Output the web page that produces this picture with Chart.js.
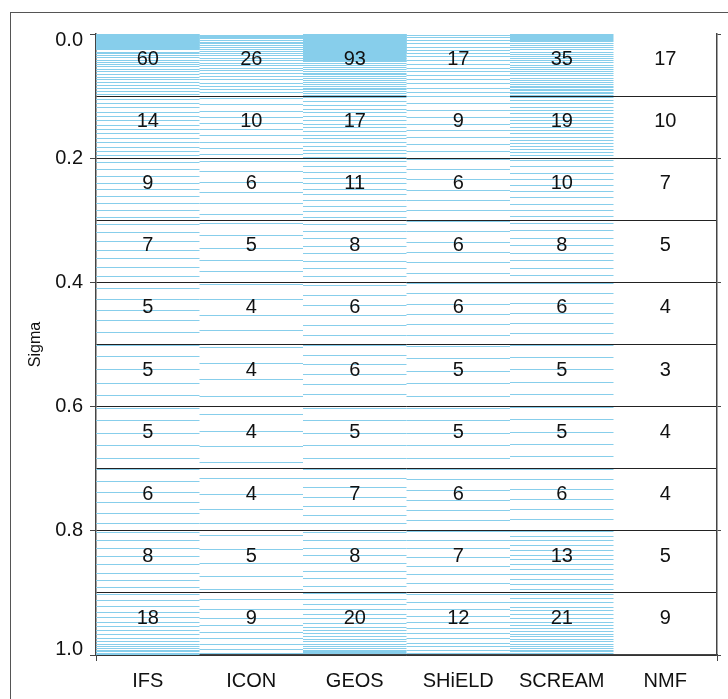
<!DOCTYPE html>
<html>
<head>
<meta charset="utf-8">
<script src="https://cdn.jsdelivr.net/npm/chart.js@4"></script>
<style>
html, body { margin: 0; padding: 0; background: #fff; overflow: hidden; }
#wrap { position: relative; width: 728px; height: 699px; }
#frame { position: absolute; left: 10px; top: 12px; width: 740px; height: 720px; border: 1px solid #555; box-sizing: border-box; }
#levelChart { position: absolute; left: 0; top: 0; }
</style>
</head>
<body>
<div id="wrap">
    <div id="frame"></div>
    <canvas id="levelChart" width="728" height="699"></canvas>
</div>
<script>
const models = ['IFS', 'ICON', 'GEOS', 'SHiELD', 'SCREAM', 'NMF'];

// number of levels in each 0.1 sigma band (top to bottom)
const ifsCounts = [60, 14, 9, 7, 5, 5, 5, 6, 8, 18];
const iconCounts = [26, 10, 6, 5, 4, 4, 4, 4, 5, 9];
const geosCounts = [93, 17, 11, 8, 6, 6, 5, 7, 8, 20];
const shieldCounts = [17, 9, 6, 6, 6, 5, 5, 6, 7, 12];
const screamCounts = [35, 19, 10, 8, 6, 5, 5, 6, 13, 21];
const nmfCounts = [17, 10, 7, 5, 4, 3, 4, 4, 5, 9];

// model level positions (sigma)
const ifsLevels = [
    0.0006, 0.0012, 0.0018, 0.0024, 0.003, 0.0036, 0.0042, 0.0048, 0.0054, 0.006,
    0.0066, 0.0072, 0.0078, 0.0084, 0.009, 0.0096, 0.0102, 0.0108, 0.0114, 0.012,
    0.0126, 0.0132, 0.0138, 0.0144, 0.015, 0.0156, 0.0162, 0.0168, 0.0174, 0.018,
    0.0186, 0.0192, 0.0198, 0.0204, 0.021, 0.0216, 0.0222, 0.0228, 0.0234, 0.024, 0.0246, 0.0252,
    0.029, 0.032, 0.035, 0.0385, 0.042, 0.0455, 0.049, 0.053, 0.057, 0.061,
    0.065, 0.0695, 0.074, 0.0785, 0.083, 0.088, 0.093, 0.098,
    0.105, 0.112, 0.119, 0.126, 0.133, 0.140, 0.147, 0.154, 0.161, 0.168, 0.175, 0.182, 0.189, 0.196,
    0.207, 0.218, 0.229, 0.240, 0.251, 0.262, 0.273, 0.284, 0.295,
    0.306, 0.320, 0.334, 0.348, 0.362, 0.376, 0.390,
    0.410, 0.427, 0.445, 0.462, 0.480,
    0.501, 0.520, 0.540, 0.562, 0.582,
    0.603, 0.623, 0.643, 0.663, 0.683,
    0.702, 0.720, 0.738, 0.755, 0.772, 0.788,
    0.803, 0.816, 0.829, 0.842, 0.855, 0.868, 0.880, 0.892,
    0.903, 0.913, 0.922, 0.931, 0.939, 0.947, 0.954, 0.961, 0.967, 0.973, 0.978, 0.983, 0.987, 0.990, 0.993, 0.995, 0.997, 0.999
];
const iconLevels = [
    0.002, 0.004, 0.006, 0.008, 0.010, 0.013, 0.016, 0.019, 0.022, 0.025, 0.028, 0.031,
    0.035, 0.039, 0.043, 0.047, 0.051, 0.055, 0.059, 0.064, 0.069, 0.074, 0.079, 0.084, 0.089, 0.094,
    0.104, 0.114, 0.124, 0.134, 0.144, 0.154, 0.164, 0.174, 0.184, 0.194,
    0.205, 0.222, 0.239, 0.256, 0.273, 0.290,
    0.305, 0.325, 0.345, 0.364, 0.383,
    0.403, 0.428, 0.453, 0.477,
    0.505, 0.531, 0.556, 0.584,
    0.613, 0.640, 0.664, 0.690,
    0.716, 0.741, 0.765, 0.789,
    0.808, 0.830, 0.852, 0.874, 0.895,
    0.911, 0.927, 0.941, 0.953, 0.964, 0.974, 0.983, 0.991, 0.997
];
const geosLevels = [
    0.0005, 0.001, 0.0015, 0.002, 0.0025, 0.003, 0.0035, 0.004, 0.0045, 0.005,
    0.0055, 0.006, 0.0065, 0.007, 0.0075, 0.008, 0.0085, 0.009, 0.0095, 0.010,
    0.0105, 0.011, 0.0115, 0.012, 0.0125, 0.013, 0.0135, 0.014, 0.0145, 0.015,
    0.0155, 0.016, 0.0165, 0.017, 0.0175, 0.018, 0.0185, 0.019, 0.0195, 0.020,
    0.0205, 0.021, 0.0215, 0.022, 0.0225, 0.023, 0.0235, 0.024, 0.0245, 0.025,
    0.0255, 0.026, 0.0265, 0.027, 0.0275, 0.028, 0.0285, 0.029, 0.0295, 0.030,
    0.031, 0.032, 0.033, 0.034, 0.035, 0.036, 0.037, 0.038, 0.039, 0.040, 0.041, 0.042, 0.043, 0.044, 0.045,
    0.048, 0.051, 0.054, 0.057, 0.060, 0.063, 0.066, 0.069, 0.072, 0.075, 0.078, 0.081, 0.084, 0.087, 0.090, 0.093, 0.096, 0.099,
    0.103, 0.109, 0.115, 0.121, 0.127, 0.133, 0.139, 0.145, 0.151, 0.157, 0.163, 0.169, 0.175, 0.181, 0.187, 0.193, 0.199,
    0.205, 0.214, 0.223, 0.232, 0.241, 0.250, 0.259, 0.268, 0.277, 0.286, 0.295,
    0.306, 0.318, 0.330, 0.342, 0.354, 0.366, 0.378, 0.390,
    0.405, 0.421, 0.437, 0.453, 0.469, 0.485,
    0.501, 0.517, 0.533, 0.549, 0.565, 0.581,
    0.603, 0.623, 0.643, 0.663, 0.683,
    0.701, 0.716, 0.731, 0.746, 0.761, 0.775, 0.789,
    0.803, 0.815, 0.828, 0.840, 0.853, 0.865, 0.877, 0.889,
    0.901, 0.910, 0.919, 0.927, 0.935, 0.942, 0.949, 0.955, 0.961, 0.966, 0.971, 0.975, 0.979, 0.983, 0.986, 0.989, 0.992, 0.994, 0.996, 0.998
];
const shieldLevels = [
    0.002, 0.006, 0.011, 0.016, 0.021, 0.026, 0.031, 0.037, 0.043, 0.049, 0.055, 0.061, 0.067, 0.073, 0.080, 0.087, 0.094,
    0.101, 0.112, 0.123, 0.134, 0.145, 0.156, 0.167, 0.178, 0.189,
    0.202, 0.218, 0.235, 0.252, 0.268, 0.285,
    0.302, 0.318, 0.335, 0.352, 0.368, 0.385,
    0.402, 0.418, 0.435, 0.452, 0.468, 0.485,
    0.503, 0.523, 0.543, 0.563, 0.583,
    0.603, 0.623, 0.643, 0.663, 0.683,
    0.702, 0.718, 0.735, 0.752, 0.768, 0.784,
    0.801, 0.815, 0.829, 0.843, 0.857, 0.871, 0.885,
    0.903, 0.915, 0.927, 0.938, 0.948, 0.957, 0.966, 0.974, 0.981, 0.987, 0.993, 0.998
];
const screamLevels = [
    0.0015, 0.003, 0.0045, 0.006, 0.0075, 0.009, 0.0105, 0.012,
    0.015, 0.0185, 0.022, 0.0255, 0.029, 0.0325, 0.036, 0.0395, 0.043, 0.0465,
    0.050, 0.0535, 0.057, 0.0605, 0.064, 0.0675, 0.071, 0.0745, 0.078, 0.0815,
    0.084, 0.0865, 0.089, 0.0915, 0.094, 0.0965, 0.099,
    0.102, 0.107, 0.112, 0.118, 0.123, 0.128, 0.134, 0.139, 0.144, 0.150, 0.155, 0.160, 0.166, 0.171, 0.176, 0.181, 0.186, 0.191, 0.196,
    0.204, 0.214, 0.224, 0.234, 0.244, 0.254, 0.264, 0.274, 0.284, 0.294,
    0.305, 0.317, 0.329, 0.341, 0.353, 0.365, 0.377, 0.389,
    0.402, 0.418, 0.434, 0.450, 0.466, 0.482,
    0.501, 0.521, 0.541, 0.561, 0.581,
    0.601, 0.621, 0.641, 0.661, 0.681,
    0.701, 0.717, 0.733, 0.749, 0.765, 0.781,
    0.801, 0.809, 0.816, 0.824, 0.831, 0.839, 0.846, 0.854, 0.862, 0.870, 0.878, 0.886, 0.894,
    0.902, 0.909, 0.916, 0.923, 0.929, 0.935, 0.941, 0.947, 0.952, 0.957, 0.962, 0.967, 0.971, 0.975, 0.979, 0.983, 0.986, 0.989, 0.992, 0.995, 0.998
];

const levelSets = [ifsLevels, iconLevels, geosLevels, shieldLevels, screamLevels];
const allCounts = [ifsCounts, iconCounts, geosCounts, shieldCounts, screamCounts, nmfCounts];

const FONT = '"Liberation Sans", Arial, Helvetica, sans-serif';
const clear = 'rgba(0,0,0,0)';

// one short horizontal segment per level, across that model's column
function levelSegments(levels, col)
{
    const pts = [];
    levels.forEach(s =>
    {
        pts.push({ x: col, y: s }, { x: col + 1, y: s }, { x: col + 0.5, y: null });
    });
    return pts;
}

const countLabels = {
    id: 'countLabels',
    afterDraw(chart)
    {
        const { ctx, scales: { x, y } } = chart;
        ctx.save();
        ctx.font = '20px ' + FONT;
        ctx.fillStyle = '#111';
        ctx.textAlign = 'center';
        ctx.textBaseline = 'alphabetic';
        allCounts.forEach((counts, col) =>
        {
            counts.forEach((n, band) =>
            {
                ctx.fillText(String(n), x.getPixelForValue(col + 0.5), y.getPixelForValue(band / 10 + 0.05));
            });
        });
        ctx.restore();
    }
};

const isEven = v => Math.round(v * 10) % 2 === 0;

// end labels sit a little inside the axis, as in the original
function yLabel(v)
{
    if (!isEven(v)) return '';
    const txt = v.toFixed(1);
    if (v === 0) return ['', txt];
    if (v === 1) return [txt, ''];
    return txt;
}

// hidden copy of the sigma axis that puts each level on a whole pixel row (crisp 1px lines)
function snapToPixels(scale)
{
    scale.getPixelForValue = (v, i) => Math.floor(Chart.LinearScale.prototype.getPixelForValue.call(scale, v, i)) + 0.5;
}

new Chart(document.getElementById('levelChart').getContext('2d'), {
    type: 'scatter',
    data: {
        datasets: levelSets.map((levels, col) => ({
            data: levelSegments(levels, col),
            xAxisID: 'x',
            yAxisID: 'yl',
            showLine: true,
            spanGaps: false,
            borderColor: '#87CEEB',
            borderWidth: 1,
            pointRadius: 0,
            pointHoverRadius: 0
        }))
    },
    options: {
        responsive: false,
        animation: false,
        events: [],
        layout: { padding: { top: 34, right: 0, left: 0, bottom: 0 } },
        plugins: {
            legend: { display: false },
            tooltip: { enabled: false }
        },
        scales: {
            x: {
                type: 'linear',
                min: 0,
                max: 6,
                z: 1,
                afterFit: s => { s.height = 44; },
                ticks: {
                    stepSize: 0.5,
                    autoSkip: false,
                    maxRotation: 0,
                    color: '#111',
                    padding: 8,
                    font: { size: 20, family: FONT },
                    callback: v =>
                    {
                        const k = Math.round(v * 2);
                        return k % 2 === 1 ? models[(k - 1) / 2] : '';
                    }
                },
                grid: {
                    drawOnChartArea: false,
                    tickLength: 6,
                    tickColor: ctx => (ctx.tick && (ctx.tick.value === 0 || ctx.tick.value === 6)) ? '#444' : clear
                },
                border: { color: '#444', width: 1.5 }
            },
            y: {
                type: 'linear',
                min: 0,
                max: 1,
                reverse: true,
                z: 1,
                afterFit: s => { s.width = 96; },
                title: {
                    display: true,
                    text: 'Sigma',
                    color: '#111',
                    font: { size: 16, family: FONT },
                    padding: { top: 26, bottom: 0 }
                },
                ticks: {
                    stepSize: 0.1,
                    autoSkip: false,
                    color: '#111',
                    padding: 7,
                    font: { size: 20, family: FONT, lineHeight: 0.6 },
                    callback: yLabel
                },
                grid: {
                    color: ctx => (ctx.tick && ctx.tick.value === 0) ? clear : '#222',
                    lineWidth: 1,
                    tickLength: 6,
                    tickColor: ctx => (ctx.tick && isEven(ctx.tick.value)) ? '#444' : clear
                },
                border: { color: '#444', width: 1.5 }
            },
            yl: {
                type: 'linear',
                display: false,
                min: 0,
                max: 1,
                reverse: true,
                afterUpdate: snapToPixels
            },
            yr: {
                type: 'linear',
                position: 'right',
                min: 0,
                max: 1,
                reverse: true,
                z: 1,
                afterFit: s => { s.width = 11; },
                ticks: {
                    stepSize: 0.1,
                    autoSkip: false,
                    callback: () => ''
                },
                grid: {
                    drawOnChartArea: false,
                    tickLength: 4,
                    tickColor: ctx => (ctx.tick && isEven(ctx.tick.value)) ? '#444' : clear
                },
                border: { color: '#444', width: 1.5 }
            }
        }
    },
    plugins: [countLabels]
});
</script>
</body>
</html>
